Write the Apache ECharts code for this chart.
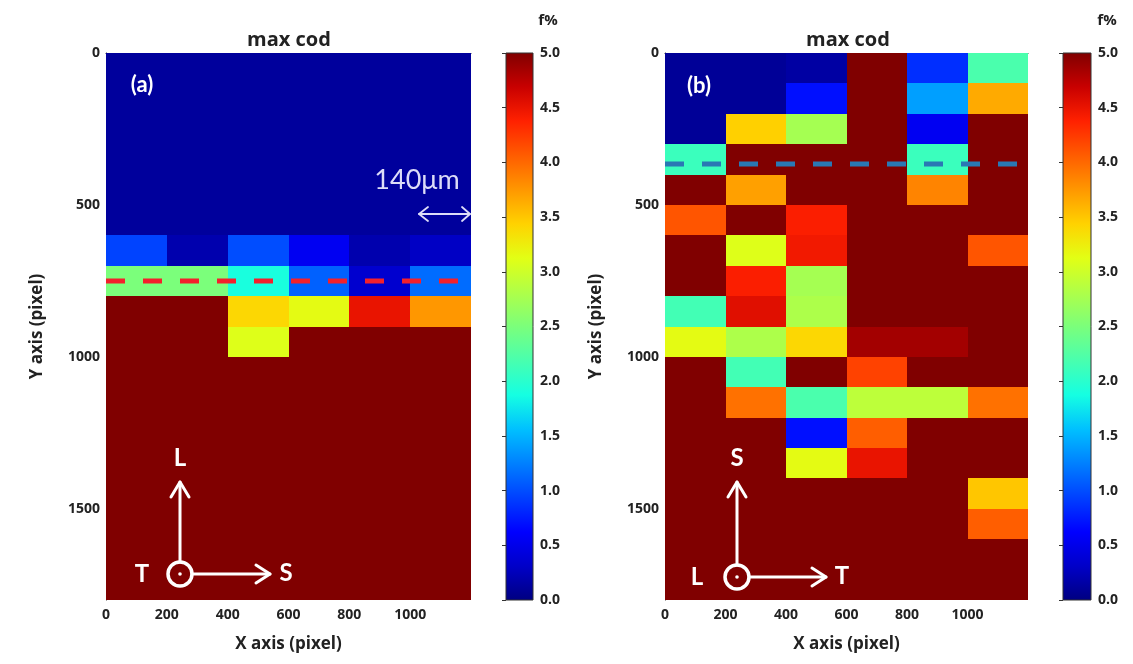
<!DOCTYPE html>
<html>
<head>
<meta charset="utf-8">
<script src="https://cdn.jsdelivr.net/npm/echarts@6/dist/echarts.min.js"></script>
<style>html,body{margin:0;padding:0;background:#fff;}#c{width:1133px;height:664px;}</style>
</head>
<body>
<div id="c"></div>
<script>
// ---- data ----
const xEdges = [0, 200, 400, 600, 800, 1000];           // left edge of each column (pixel)
const yEdges = [0, 100, 200, 300, 400, 500, 600, 700, 800, 900,
                1000, 1100, 1200, 1300, 1400, 1500, 1600, 1700]; // top edge of each row (pixel)
const cellW = 200, cellH = 100;

// panel (a): f% values, one row per yEdge, one column per xEdge
const panelA = [
  [0.12, 0.12, 0.12, 0.12, 0.12, 0.12],
  [0.12, 0.12, 0.12, 0.12, 0.12, 0.12],
  [0.12, 0.12, 0.12, 0.12, 0.12, 0.12],
  [0.12, 0.12, 0.12, 0.12, 0.12, 0.12],
  [0.12, 0.12, 0.12, 0.12, 0.12, 0.12],
  [0.12, 0.12, 0.12, 0.12, 0.12, 0.12],
  [0.95, 0.2, 1.0, 0.55, 0.2, 0.3],
  [2.5, 2.5, 1.9, 1.1, 0.35, 1.15],
  [5, 5, 3.4, 3.15, 4.5, 3.75],
  [5, 5, 3.1, 5, 5, 5],
  [5, 5, 5, 5, 5, 5],
  [5, 5, 5, 5, 5, 5],
  [5, 5, 5, 5, 5, 5],
  [5, 5, 5, 5, 5, 5],
  [5, 5, 5, 5, 5, 5],
  [5, 5, 5, 5, 5, 5],
  [5, 5, 5, 5, 5, 5],
  [5, 5, 5, 5, 5, 5]
];
// panel (b)
const panelB = [
  [0.1, 0.1, 0.15, 5, 0.85, 2.2],
  [0.1, 0.1, 0.7, 5, 1.4, 3.65],
  [0.1, 3.45, 2.75, 5, 0.55, 5],
  [2.1, 5, 5, 5, 2.1, 5],
  [5, 3.7, 5, 5, 3.85, 5],
  [4.1, 5, 4.4, 5, 5, 5],
  [5, 3.1, 4.45, 5, 5, 4.1],
  [5, 4.4, 2.75, 5, 5, 5],
  [2.15, 4.55, 2.8, 5, 5, 5],
  [3.15, 2.8, 3.4, 4.85, 4.85, 5],
  [5, 2.15, 5, 4.2, 5, 5],
  [5, 3.95, 2.2, 2.9, 2.9, 3.95],
  [5, 5, 0.7, 4.05, 5, 5],
  [5, 5, 3.15, 4.5, 5, 5],
  [5, 5, 5, 5, 5, 3.5],
  [5, 5, 5, 5, 5, 4.05],
  [5, 5, 5, 5, 5, 5],
  [5, 5, 5, 5, 5, 5]
];
const lineA = 750;   // red dashed line depth (pixel)
const lineB = 365;   // blue dashed line depth (pixel)
const xTicks = [0, 200, 400, 600, 800, 1000];
const yTicks = [0, 500, 1000, 1500];
const cbarTicks = [0, 0.5, 1, 1.5, 2, 2.5, 3, 3.5, 4, 4.5, 5];

// jet colormap
const JET = ['#000080','#0000c8','#0000ff','#0040ff','#0080ff','#00c0ff','#15ffe2','#48ffaf',
             '#7bff7b','#afff48','#e2ff15','#ffd200','#ff9700','#ff5c00','#ff2100','#c80000','#800000'];

function toCells(m) {
  const out = [];
  m.forEach((row, r) => row.forEach((v, c) => out.push([xEdges[c], yEdges[r], v])));
  return out;
}

function cellRender(params, api) {
  const x = api.value(0), y = api.value(1);
  const p0 = api.coord([x, y]);
  const p1 = api.coord([x + cellW, y + cellH]);
  const x0 = Math.round(Math.min(p0[0], p1[0])), x1 = Math.round(Math.max(p0[0], p1[0]));
  const y0 = Math.round(Math.min(p0[1], p1[1])), y1 = Math.round(Math.max(p0[1], p1[1]));
  return {
    type: 'rect',
    shape: { x: x0, y: y0, width: x1 - x0, height: y1 - y0 },
    style: { fill: api.visual('color') }
  };
}

function cbarRender(params, api) {
  const p0 = api.coord([0, 0]);
  const p1 = api.coord([1, 5]);
  return {
    type: 'rect',
    shape: { x: p0[0], y: p1[1], width: p1[0] - p0[0], height: p0[1] - p1[1] },
    style: {
      fill: { type: 'linear', x: 0, y: 1, x2: 0, y2: 0,
              colorStops: JET.map((c, i) => ({ offset: i / (JET.length - 1), color: c })) },
      stroke: '#333', lineWidth: 1
    }
  };
}

const FONT = 'Open Sans';
const tickLabel = { fontFamily: FONT, fontWeight: 'bold', fontSize: 14, color: '#222' };

function mainX(i) {
  return {
    gridIndex: i, type: 'value', min: 0, max: 1200, interval: 200,
    name: 'X axis (pixel)', nameLocation: 'middle', nameGap: 36,
    nameTextStyle: { fontFamily: FONT, fontWeight: 'bold', fontSize: 17, color: '#222' },
    axisLine: { show: true, lineStyle: { color: '#222', width: 1 } },
    axisTick: { show: false }, splitLine: { show: false },
    axisLabel: Object.assign({ margin: 8, showMaxLabel: false,
      formatter: v => (xTicks.indexOf(v) >= 0 ? String(v) : '') }, tickLabel)
  };
}
function mainY(i) {
  return {
    gridIndex: i, type: 'value', min: 0, max: 1800, interval: 500, inverse: true,
    name: 'Y axis (pixel)', nameLocation: 'middle', nameGap: 60, nameRotate: 90,
    nameTextStyle: { fontFamily: FONT, fontWeight: 'bold', fontSize: 17, color: '#222' },
    axisLine: { show: true, lineStyle: { color: '#222', width: 1 } },
    axisTick: { show: false }, splitLine: { show: false },
    axisLabel: Object.assign({ margin: 6, showMaxLabel: false,
      formatter: v => (yTicks.indexOf(v) >= 0 ? String(v) : '') }, tickLabel)
  };
}
function cbarX(i) {
  return { gridIndex: i, type: 'value', min: 0, max: 1, show: false };
}
function cbarY(i) {
  return {
    gridIndex: i, type: 'value', min: 0, max: 5, interval: 0.5, position: 'right',
    axisLine: { show: false }, splitLine: { show: false },
    axisTick: { show: true, inside: true, length: 4, lineStyle: { color: '#333' } },
    axisLabel: Object.assign({ margin: 7,
      formatter: v => (cbarTicks.indexOf(v) >= 0 ? v.toFixed(1) : '') }, tickLabel)
  };
}

// annotation helpers (decorations, pixel positions)
const W = '#ffffff';
function txt(x, y, s, size, weight, color, fam) {
  return { type: 'text', x: x, y: y, z: 100,
    style: { text: s, fill: color, font: weight + ' ' + size + 'px ' + (fam === 'lato' ? 'Lato' : FONT),
             textAlign: 'center', textVerticalAlign: 'middle' } };
}
function pl(points, color, w) {
  return { type: 'polyline', z: 100, shape: { points: points },
    style: { stroke: color, lineWidth: w, fill: null, lineCap: 'round', lineJoin: 'round' } };
}
function compass(cx, cy, topY, rightX, up, left, right, leftX) {
  return [
    { type: 'circle', z: 100, shape: { cx: cx, cy: cy, r: 12 }, style: { stroke: W, lineWidth: 3.5, fill: null } },
    { type: 'circle', z: 100, shape: { cx: cx, cy: cy, r: 1.8 }, style: { fill: W } },
    pl([[cx, cy - 12], [cx, topY]], W, 3),
    pl([[cx - 9, topY + 15], [cx, topY], [cx + 9, topY + 15]], W, 3),
    pl([[cx + 12, cy], [rightX, cy]], W, 3),
    pl([[rightX - 14, cy - 9], [rightX, cy], [rightX - 14, cy + 9]], W, 3),
    txt(cx, topY - 24, up, 24, 'bold', W, 'lato'),
    txt(leftX, cy, left, 24, 'bold', W, 'lato'),
    txt(rightX + 16, cy - 1, right, 24, 'bold', W, 'lato')
  ];
}

const graphics = [
  txt(289, 40, 'max cod', 20, 'bold', '#222'),
  txt(848, 40, 'max cod', 20, 'bold', '#222'),
  txt(548, 21, 'f%', 15, 'bold', '#222'),
  txt(1107, 21, 'f%', 15, 'bold', '#222'),
  txt(142, 85, '(a)', 22, 'bold', W, 'lato'),
  txt(699, 86, '(b)', 22, 'bold', W, 'lato'),
  txt(417, 180, '140\u03bcm', 27, 'normal', '#dcdcf8', 'lato'),
  pl([[419, 214], [470, 214]], '#dcdcf8', 1.8),
  pl([[428, 207], [419, 214], [428, 221]], '#dcdcf8', 1.8),
  pl([[462, 207], [470, 214], [462, 221]], '#dcdcf8', 1.8)
].concat(compass(180, 574, 482, 270, 'L', 'T', 'S', 142))
 .concat(compass(737, 577, 482, 826, 'S', 'L', 'T', 697));

const option = {
  animation: false,
  backgroundColor: '#fff',
  grid: [
    { left: 106, top: 53, width: 365, height: 547 },
    { left: 665, top: 53, width: 363, height: 547 },
    { left: 506, top: 53, width: 27, height: 547 },
    { left: 1063, top: 53, width: 28, height: 547 }
  ],
  xAxis: [mainX(0), mainX(1), cbarX(2), cbarX(3)],
  yAxis: [mainY(0), mainY(1), cbarY(2), cbarY(3)],
  visualMap: [{
    type: 'continuous', show: false, min: 0, max: 5, dimension: 2,
    seriesIndex: [0, 1], inRange: { color: JET }
  }],
  series: [
    { type: 'custom', xAxisIndex: 0, yAxisIndex: 0, data: toCells(panelA), renderItem: cellRender,
      encode: { x: 0, y: 1 }, clip: true, silent: true },
    { type: 'custom', xAxisIndex: 1, yAxisIndex: 1, data: toCells(panelB), renderItem: cellRender,
      encode: { x: 0, y: 1 }, clip: true, silent: true },
    { type: 'line', xAxisIndex: 0, yAxisIndex: 0, data: [[0, lineA], [1200, lineA]], symbol: 'none',
      z: 5, silent: true, lineStyle: { color: '#f4202c', width: 5, type: [19, 18] } },
    { type: 'line', xAxisIndex: 1, yAxisIndex: 1, data: [[0, lineB], [1200, lineB]], symbol: 'none',
      z: 5, silent: true, lineStyle: { color: '#2a78b4', width: 5, type: [19, 18] } },
    { type: 'custom', xAxisIndex: 2, yAxisIndex: 2, data: [[0, 0]], renderItem: cbarRender, silent: true },
    { type: 'custom', xAxisIndex: 3, yAxisIndex: 3, data: [[0, 0]], renderItem: cbarRender, silent: true }
  ],
  graphic: graphics
};

const chart = echarts.init(document.getElementById('c'), null, { renderer: 'canvas' });
chart.setOption(option);
</script>
</body>
</html>
